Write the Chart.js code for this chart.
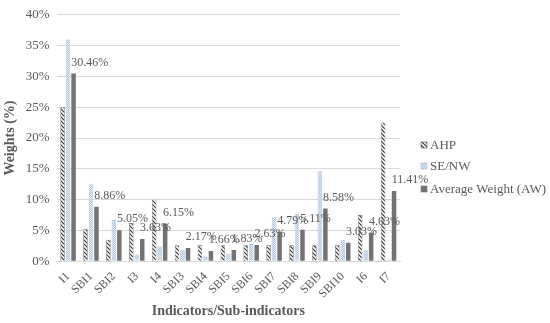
<!DOCTYPE html>
<html>
<head>
<meta charset="utf-8">
<script src="https://cdn.jsdelivr.net/npm/chart.js@4"></script>
<style>
  html, body { margin: 0; padding: 0; background: #fff; }
  #wrap { width: 550px; height: 323px; }
</style>
</head>
<body>
<div id="wrap"><canvas id="chart"></canvas></div>
<script>
// ------------------------------
// Data
// ------------------------------

const categories = ["I1","SBI1","SBI2","I3","I4","SBI3","SBI4","SBI5","SBI6","SBI7","SBI8","SBI9","SBI10","I6","I7"];

const ahp   = [25.0, 5.2, 3.5, 6.2, 10.0, 2.6, 2.6, 2.6, 2.6, 2.6, 2.6, 2.6, 2.6, 7.5, 22.5];
const seNw  = [36.0, 12.6, 6.7, 1.1, 2.4, 1.8, 0.8, 1.2, 2.8, 7.1, 7.7, 14.7, 3.5, 1.8, 0.3];
const avgW  = [30.46, 8.86, 5.05, 3.63, 6.15, 2.17, 1.66, 1.83, 2.63, 4.79, 5.11, 8.58, 3.03, 4.63, 11.41];

const seriesNames = ["AHP", "SE/NW", "Average Weight (AW)"];
const yTicks = [0, 5, 10, 15, 20, 25, 30, 35, 40];

// ------------------------------
// Fill patterns
// ------------------------------

const canvas = document.getElementById("chart");
const ctx = canvas.getContext("2d");

function hatchPattern(){
    const c = document.createElement("canvas");
    c.width = 4; c.height = 4;
    const g = c.getContext("2d");
    g.fillStyle = "#ffffff";
    g.fillRect(0, 0, 4, 4);
    g.strokeStyle = "#333333";
    g.lineWidth = 1.2;
    g.beginPath();
    g.moveTo(0, 0); g.lineTo(4, 4);
    g.moveTo(-2, 2); g.lineTo(2, 6);
    g.moveTo(2, -2); g.lineTo(6, 2);
    g.stroke();
    return ctx.createPattern(c, "repeat");
}

function dotPattern(){
    const c = document.createElement("canvas");
    c.width = 2; c.height = 2;
    const g = c.getContext("2d");
    g.fillStyle = "#a9c1dd";
    g.fillRect(0, 0, 2, 2);
    g.fillStyle = "#e6eef7";
    g.fillRect(0, 0, 1, 1);
    g.fillRect(1, 1, 1, 1);
    return ctx.createPattern(c, "repeat");
}

const fills = [hatchPattern(), dotPattern(), "#737373"];
const borders = ["#595959", "#9fb6d3", "#737373"];

// ------------------------------
// Plugins: value labels + legend
// ------------------------------

const valueLabels = {
    id: "valueLabels",
    afterDatasetsDraw(chart){
        const meta = chart.getDatasetMeta(2);
        const c = chart.ctx;
        c.save();
        c.font = "12px 'Liberation Serif', serif";
        c.fillStyle = "#595959";
        c.textAlign = "left";
        c.textBaseline = "bottom";
        meta.data.forEach((bar, i) => {
            c.fillText(avgW[i].toFixed(2) + "%", bar.x - bar.width / 2, bar.y - 5);
        });
        c.restore();
    }
};

const sideLegend = {
    id: "sideLegend",
    afterDraw(chart){
        const c = chart.ctx;
        c.save();
        c.font = "13px 'Liberation Serif', serif";
        c.textBaseline = "middle";
        const x = 421;
        const ys = [145, 166, 189];
        seriesNames.forEach((name, i) => {
            c.fillStyle = fills[i];
            c.fillRect(x, ys[i] - 3, 6, 6);
            c.strokeStyle = borders[i];
            c.lineWidth = 0.6;
            c.strokeRect(x, ys[i] - 3, 6, 6);
            c.fillStyle = "#595959";
            c.fillText(name, x + 9, ys[i] + 1);
        });
        c.restore();
    }
};

// ------------------------------
// Chart
// ------------------------------

new Chart(canvas, {
    type: "bar",
    data: {
        labels: categories,
        datasets: [ahp, seNw, avgW].map((d, i) => ({
            label: seriesNames[i],
            data: d,
            backgroundColor: fills[i],
            borderColor: borders[i],
            borderWidth: i === 2 ? 0 : 0.6,
            categoryPercentage: 0.72,
            barPercentage: 0.82
        }))
    },
    options: {
        responsive: true,
        maintainAspectRatio: false,
        animation: false,
        layout: { padding: { top: 4, right: 150, left: 2, bottom: 3 } },
        plugins: {
            legend: { display: false },
            tooltip: { enabled: false }
        },
        scales: {
            x: {
                grid: { display: false },
                border: { color: "#d9d9d9" },
                ticks: {
                    color: "#595959",
                    font: { family: "'Liberation Serif', serif", size: 12 },
                    autoSkip: false,
                    minRotation: 45,
                    maxRotation: 45,
                    padding: 0
                },
                title: {
                    display: true,
                    text: "Indicators/Sub-indicators",
                    color: "#595959",
                    font: { family: "'Liberation Serif', serif", size: 14, weight: "bold" },
                    padding: { top: 2, bottom: 0 }
                }
            },
            y: {
                min: 0,
                max: 40,
                afterBuildTicks(axis){
                    axis.ticks = yTicks.map(v => ({ value: v }));
                },
                grid: { color: "#d9d9d9", drawTicks: false },
                border: { display: false },
                ticks: {
                    color: "#595959",
                    font: { family: "'Liberation Serif', serif", size: 13 },
                    padding: 7,
                    callback: v => v + "%"
                },
                title: {
                    display: true,
                    text: "Weights (%)",
                    color: "#595959",
                    font: { family: "'Liberation Serif', serif", size: 14, weight: "bold" },
                    padding: { top: 0, bottom: 0 }
                }
            }
        }
    },
    plugins: [valueLabels, sideLegend]
});
</script>
</body>
</html>
